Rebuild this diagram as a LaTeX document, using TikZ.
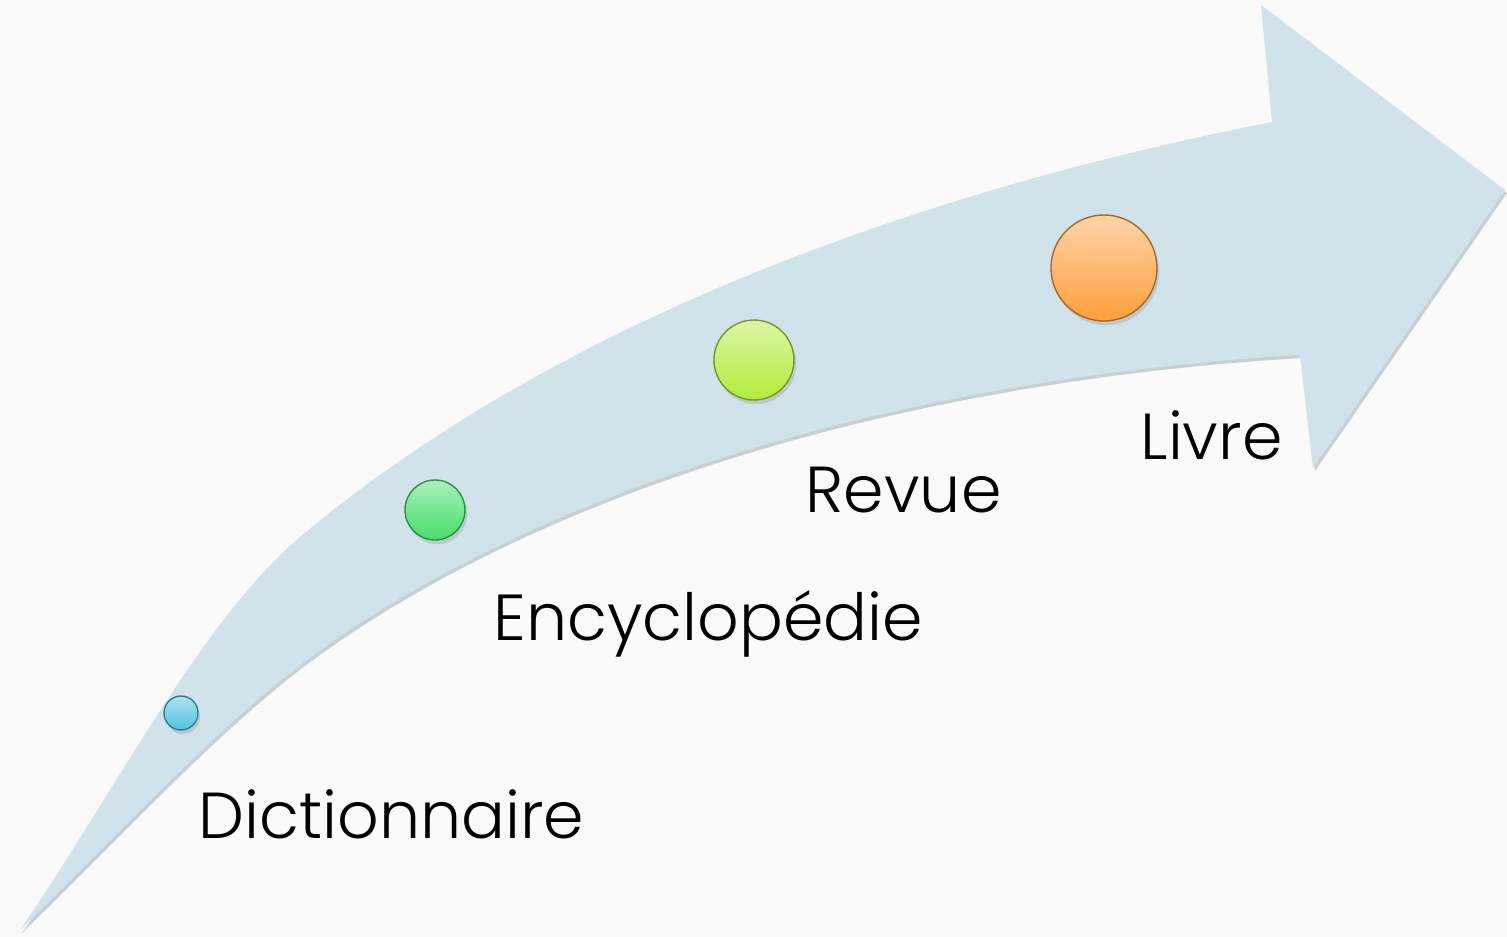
\documentclass[tikz,border=0pt]{standalone}
\usepackage{fontspec}
\setmainfont{Poppins}[UprightFont=* Light]
\usetikzlibrary{shadows}

\definecolor{fond}{HTML}{FAFAFA}
\definecolor{bande}{HTML}{D0E2EA}
\definecolor{ombre}{HTML}{9AA8AE}
\definecolor{cyanbille}{HTML}{4EC3DE}
\definecolor{vertbille}{HTML}{45DE6A}
\definecolor{jaunebille}{HTML}{B2EC3A}
\definecolor{orangebille}{HTML}{FF9E3C}

% contour de la fleche courbe (unites : pixels)
\newcommand{\contourfleche}{(20,930) .. controls (110,800) and (200,622) .. (300,537)
  .. controls (570,310) and (950,185) .. (1272,122)
  -- (1261,5) -- (1505,190) -- (1313,468) -- (1300,355)
  .. controls (880,380) and (523,498) .. (303,663)
  .. controls (213,731) and (115,838) .. (20,930) -- cycle}

\tikzset{
  bille/.style={circle, inner sep=0pt, draw=#1!65!black, line width=0.4pt,
    top color=#1!45!white, bottom color=#1,
    drop shadow={opacity=0.25, shadow xshift=0.6pt, shadow yshift=-1.2pt}},
  etape/.style={anchor=base west, inner sep=0pt, text=black,
    font=\fontsize{18.5}{22}\selectfont},
}

\begin{document}
\begin{tikzpicture}[x=0.1mm, y=-0.1mm]
\useasboundingbox (0,0) rectangle (1507,937);
\fill[fond] (0,0) rectangle (1507,937);

% la fleche
\fill[ombre, opacity=0.5, shift={(2,3)}] \contourfleche;
\fill[bande] \contourfleche;

% les billes
\node[bille=cyanbille, minimum size=0.34cm] (dico) at (181,713) {};
\node[bille=vertbille, minimum size=0.60cm] (encyclo) at (435,510) {};
\node[bille=jaunebille, minimum size=0.80cm] (revue) at (754,360) {};
\node[bille=orangebille, minimum size=1.06cm] (livre) at (1104,268) {};

% les etiquettes
\node[etape] (dico-txt) at (198,838) {Dictionnaire};
\node[etape] (encyclo-txt) at (493,640) {Encyclopédie};
\node[etape] (revue-txt) at (805,512) {Revue};
\node[etape] (livre-txt) at (1140,459) {Livre};
\end{tikzpicture}
\end{document}
